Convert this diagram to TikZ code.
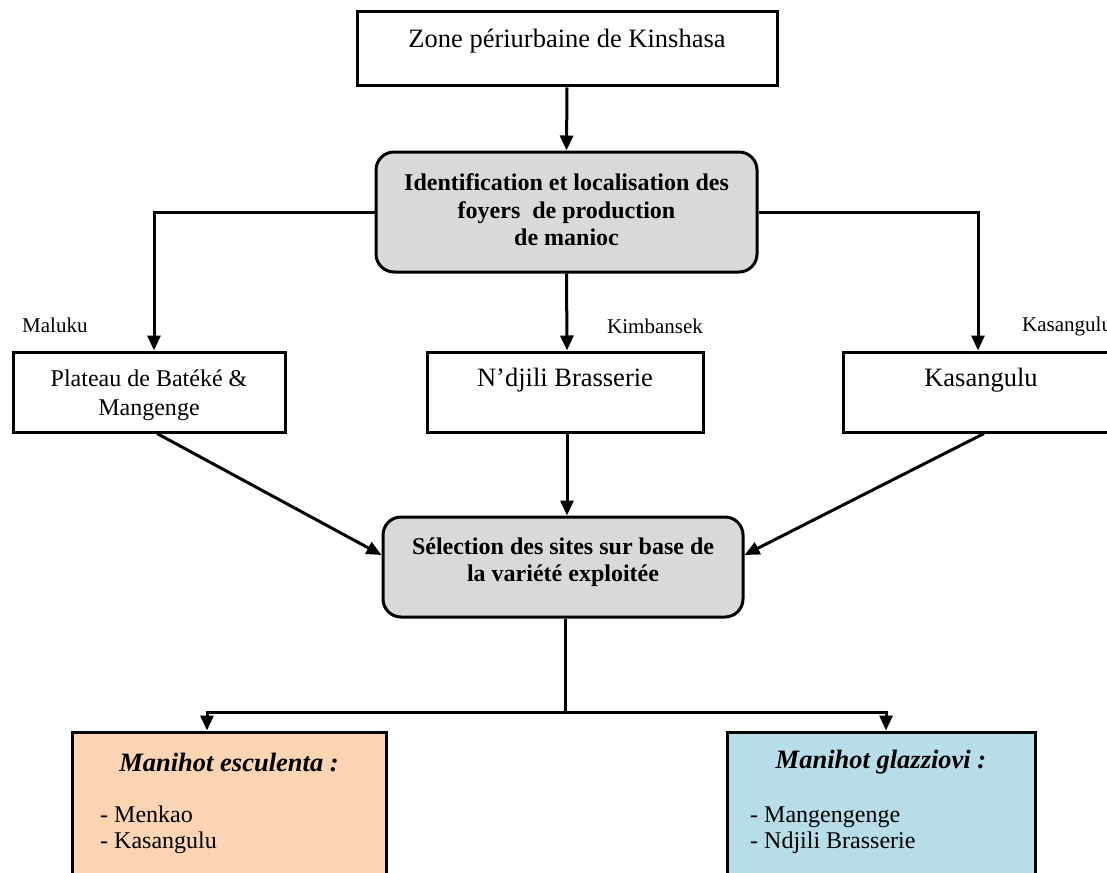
\documentclass[tikz,border=0pt]{standalone}
\usepackage{fontspec}
\setmainfont{Liberation Serif}
\usetikzlibrary{arrows.meta}
\definecolor{boxgrey}{HTML}{D9D9D9}
\definecolor{peach}{HTML}{FBD4B4}
\definecolor{paleblue}{HTML}{B7DDE8}
\begin{document}
\begin{tikzpicture}[x=1pt,y=-1pt,
  frame/.style={draw, line width=3pt, inner sep=0pt},
  plainbox/.style={frame, fill=white},
  greybox/.style={frame, fill=boxgrey, rounded corners=18pt},
  link/.style={line width=3pt, -{Triangle[width=13pt,length=15pt]}},
  wire/.style={line width=3pt},
  bodytext/.style={font=\fontsize{26.5}{30.5}\selectfont, inner sep=0pt, align=center},
  smallbody/.style={font=\fontsize{24}{29}\selectfont, inner sep=0pt, align=center},
  boldtext/.style={font=\fontsize{24}{27.5}\selectfont\bfseries, inner sep=0pt, align=center},
  sitetext/.style={font=\fontsize{21}{24}\selectfont, inner sep=0pt, anchor=west},
  titletext/.style={font=\fontsize{26.5}{30}\selectfont\bfseries\itshape, inner sep=0pt},
  listtext/.style={font=\fontsize{24}{26}\selectfont, inner sep=0pt, align=left, anchor=west},
]
\clip (0,0) rectangle (1107,872);

% top level
\node[plainbox, minimum width=420pt, minimum height=74pt] (zone) at (567,49) {};
\node[bodytext] (zonetxt) at (567,41) {Zone périurbaine de Kinshasa};

% identification step
\node[greybox, minimum width=381pt, minimum height=120pt] (ident) at (566.5,212) {};
\node[boldtext] (identtxt) at (566.5,210) {Identification et localisation des\\foyers \ de production\\de manioc};

% production zones
\node[plainbox, minimum width=272pt, minimum height=80pt] (plateau) at (149,392) {};
\node[smallbody] (plateautxt) at (149,395) {Plateau de Batéké \&\\Mangenge};
\node[plainbox, minimum width=276pt, minimum height=80pt] (ndjili) at (565,392) {};
\node[bodytext] (ndjilitxt) at (565,380) {N’djili Brasserie};
\node[plainbox, minimum width=276pt, minimum height=80pt] (kasangulu) at (981,392) {};
\node[bodytext] (kasangulutxt) at (981,380) {Kasangulu};

\node[sitetext] (maluku) at (22,325) {Maluku};
\node[sitetext] (kimbansek) at (607,326) {Kimbansek};
\node[sitetext] (kasangulusite) at (1022,326) {Kasangulu};

% selection step
\node[greybox, minimum width=360pt, minimum height=100pt] (select) at (563,567) {};
\node[boldtext] (selecttxt) at (563,562) {Sélection des sites sur base de\\la variété exploitée};

% varieties
\node[frame, fill=peach, minimum width=314pt, minimum height=160pt] (esc) at (229,812) {};
\node[titletext] (esctitle) at (229,762) {Manihot esculenta\/ :};
\node[listtext] (esclist) at (100,830) {- Menkao\\- Kasangulu};
\node[frame, fill=paleblue, minimum width=308pt, minimum height=160pt] (glaz) at (881,812) {};
\node[titletext] (glaztitle) at (881,762) {Manihot glazziovi\/ :};
\node[listtext] (glazlist) at (750,830) {- Mangengenge\\- Ndjili Brasserie};

% connectors
\draw[link] (zone.south) -- (ident.north);
\draw[link] (ident.west) -| ([xshift=5pt]plateau.north);
\draw[link] (ident.south) -- ([xshift=2pt]ndjili.north);
\draw[link] (ident.east) -| ([xshift=-3pt]kasangulu.north);

\draw[link] ([xshift=8pt]plateau.south) -- ([yshift=12pt]select.west);
\draw[link] ([xshift=2pt]ndjili.south) -- ([xshift=4pt]select.north);
\draw[link] ([xshift=3pt]kasangulu.south) -- ([yshift=12pt]select.east);

\coordinate (split) at (565,712);
\draw[wire] ([xshift=2pt]select.south) -- (split);
\draw[link] (split) -| ([xshift=-22pt]esc.north);
\draw[link] (split) -| ([xshift=5pt]glaz.north);
\end{tikzpicture}
\end{document}
